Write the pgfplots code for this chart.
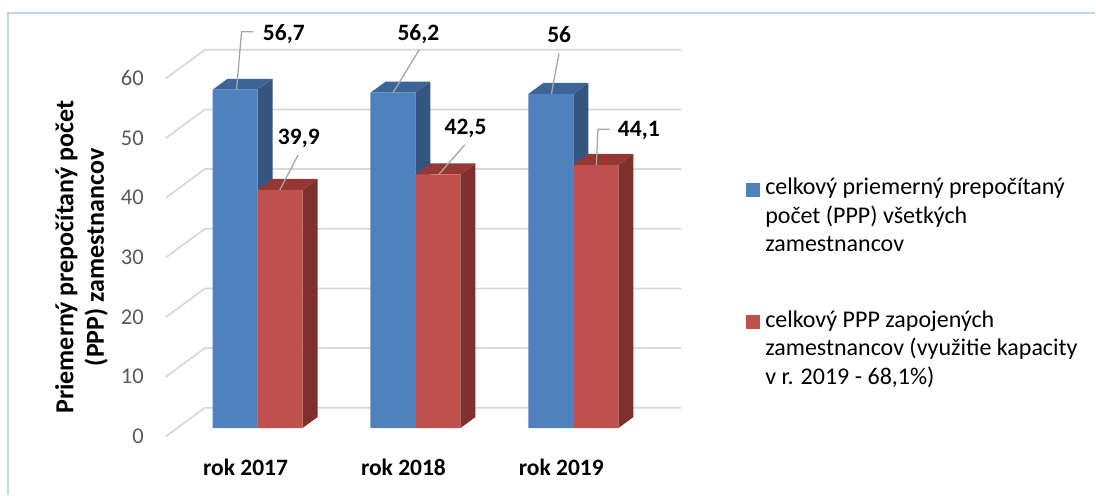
\documentclass[border=0pt]{standalone}
\usepackage{fontspec}
\setmainfont{Carlito}
\usepackage{pgfplots}
\pgfplotsset{compat=1.18}
\definecolor{blueF}{RGB}{79,129,189}
\definecolor{blueS}{RGB}{52,85,128}
\definecolor{blueT}{RGB}{60,100,150}
\definecolor{redF}{RGB}{192,80,77}
\definecolor{redS}{RGB}{125,48,46}
\definecolor{redT}{RGB}{148,55,53}
\definecolor{gridc}{RGB}{217,217,217}
\definecolor{tickc}{RGB}{89,89,89}
\definecolor{leadc}{RGB}{166,166,166}
\definecolor{borderc}{RGB}{197,213,235}
\newcommand\tightlines{\lineskiplimit=-30pt\relax}
\newcommand\legfont{\fontsize{24}{28.6}\selectfont\tightlines}
\newcommand\ylabfont{\bfseries\fontsize{26}{30.6}\selectfont\tightlines}
\begin{document}
\begin{tikzpicture}
\begin{axis}[
  scale only axis, width=1096pt, height=495pt,
  xmin=-1.6310, xmax=5.3057, ymin=-11.173, ymax=71.742,
  hide axis, clip=false,
  legend style={at={(0.6813,0.6404)}, anchor=north west, draw=none, fill=none,
    inner sep=0pt, outer sep=0pt, row sep=57.5pt, column sep=5pt,
    font=\legfont, nodes={align=left, inner sep=0pt}},
  legend cell align=left,
  legend image code/.code={\fill[#1] (0pt,19pt) rectangle (14pt,33pt);},
]
\path (axis cs:-1.6310,-11.173) rectangle (axis cs:5.3057,71.742);
% border
\draw[borderc, line width=1.3pt] (axis cs:-1.580,-11.173) -- (axis cs:-1.580,69.56) -- (axis cs:5.3057,69.56);
% grid
\addplot[gridc, line width=1.8pt, forget plot] coordinates {(-0.5804,-1.407) (-0.3335,3.40) (2.6835,3.40)};
\addplot[gridc, line width=1.8pt, forget plot] coordinates {(-0.5804,8.593) (-0.3335,13.40) (2.6835,13.40)};
\addplot[gridc, line width=1.8pt, forget plot] coordinates {(-0.5804,18.593) (-0.3335,23.40) (2.6835,23.40)};
\addplot[gridc, line width=1.8pt, forget plot] coordinates {(-0.5804,28.593) (-0.3335,33.40) (2.6835,33.40)};
\addplot[gridc, line width=1.8pt, forget plot] coordinates {(-0.5804,38.593) (-0.3335,43.40) (2.6835,43.40)};
\addplot[gridc, line width=1.8pt, forget plot] coordinates {(-0.5804,48.593) (-0.3335,53.40) (2.6835,53.40)};
\addplot[gridc, line width=1.8pt, forget plot] coordinates {(-0.5804,58.593) (-0.3335,63.40) (2.6835,63.40)};
% tick labels
\begin{scope}[every node/.style={anchor=east, text=tickc, font=\fontsize{22.5}{27}\selectfont, inner sep=0pt}]
\node at (axis cs:-0.7196,-1.407) {0};
\node at (axis cs:-0.7196,8.593) {10};
\node at (axis cs:-0.7196,18.593) {20};
\node at (axis cs:-0.7196,28.593) {30};
\node at (axis cs:-0.7196,38.593) {40};
\node at (axis cs:-0.7196,48.593) {50};
\node at (axis cs:-0.7196,58.593) {60};
\end{scope}
% blue sides and tops
\addplot[fill=blueS, draw=none, forget plot] coordinates {(0,0) (0.095,1.84) (0.095,58.54) (0,56.7)};
\addplot[fill=blueT, draw=none, forget plot] coordinates {(-0.285,56.7) (0,56.7) (0.095,58.54) (-0.19,58.54)};
\addplot[fill=blueS, draw=none, forget plot] coordinates {(1,0) (1.095,1.84) (1.095,58.04) (1,56.2)};
\addplot[fill=blueT, draw=none, forget plot] coordinates {(0.715,56.2) (1,56.2) (1.095,58.04) (0.81,58.04)};
\addplot[fill=blueS, draw=none, forget plot] coordinates {(2,0) (2.095,1.84) (2.095,57.84) (2,56)};
\addplot[fill=blueT, draw=none, forget plot] coordinates {(1.715,56) (2,56) (2.095,57.84) (1.81,57.84)};
% blue front
\addplot[ybar, bar width=0.285, bar shift=-0.1425, fill=blueF, draw=none] coordinates {(0,56.7) (1,56.2) (2,56)};
\addlegendentry{celkový priemerný prepočítaný\\počet (PPP) všetkých\\zamestnancov}
% red sides and tops
\addplot[fill=redS, draw=none, forget plot] coordinates {(0.285,0) (0.38,1.84) (0.38,41.74) (0.285,39.9)};
\addplot[fill=redT, draw=none, forget plot] coordinates {(0,39.9) (0.285,39.9) (0.38,41.74) (0.095,41.74)};
\addplot[fill=redS, draw=none, forget plot] coordinates {(1.285,0) (1.38,1.84) (1.38,44.34) (1.285,42.5)};
\addplot[fill=redT, draw=none, forget plot] coordinates {(1,42.5) (1.285,42.5) (1.38,44.34) (1.095,44.34)};
\addplot[fill=redS, draw=none, forget plot] coordinates {(2.285,0) (2.38,1.84) (2.38,45.94) (2.285,44.1)};
\addplot[fill=redT, draw=none, forget plot] coordinates {(2,44.1) (2.285,44.1) (2.38,45.94) (2.095,45.94)};
% red front
\addplot[ybar, bar width=0.285, bar shift=0.1425, fill=redF, draw=none] coordinates {(0,39.9) (1,42.5) (2,44.1)};
\addlegendentry{celkový PPP zapojených\\zamestnancov (využitie kapacity\\v r. 2019 - 68,1\%)}
% leader lines
\draw[leadc, line width=1.3pt] (axis cs:-0.1329,56.7) -- (axis cs:-0.1013,66.43) -- (axis cs:-0.0278,66.43);
\draw[leadc, line width=1.3pt] (axis cs:0.1411,39.9) -- (axis cs:0.257,45.78);
\draw[leadc, line width=1.3pt] (axis cs:0.858,56.2) -- (axis cs:1.023,63.37);
\draw[leadc, line width=1.3pt] (axis cs:1.1475,42.5) -- (axis cs:1.312,47.45);
\draw[leadc, line width=1.3pt] (axis cs:1.861,56) -- (axis cs:1.909,62.81);
\draw[leadc, line width=1.3pt] (axis cs:2.1456,44.1) -- (axis cs:2.1557,50.08) -- (axis cs:2.2297,50.08);
% data labels
\begin{scope}[every node/.style={font=\bfseries\fontsize{23.5}{28}\selectfont, inner sep=0pt}]
\node at (axis cs:0.1665,66.05) {56,7};
\node at (axis cs:0.2614,48.58) {39,9};
\node at (axis cs:1.019,66.05) {56,2};
\node at (axis cs:1.317,50.25) {42,5};
\node at (axis cs:1.910,65.88) {56};
\node at (axis cs:2.4146,49.80) {44,1};
% category labels
\node at (axis cs:-0.076,-6.65) {rok 2017};
\node at (axis cs:0.924,-6.65) {rok 2018};
\node at (axis cs:1.924,-6.65) {rok 2019};
\end{scope}
% y label
\node[rotate=90, align=center, inner sep=0pt, font=\ylabfont] at (axis cs:-1.115,28.61) {Priemerný prepočítaný počet\\(PPP) zamestnancov};
\end{axis}
\end{tikzpicture}
\end{document}
